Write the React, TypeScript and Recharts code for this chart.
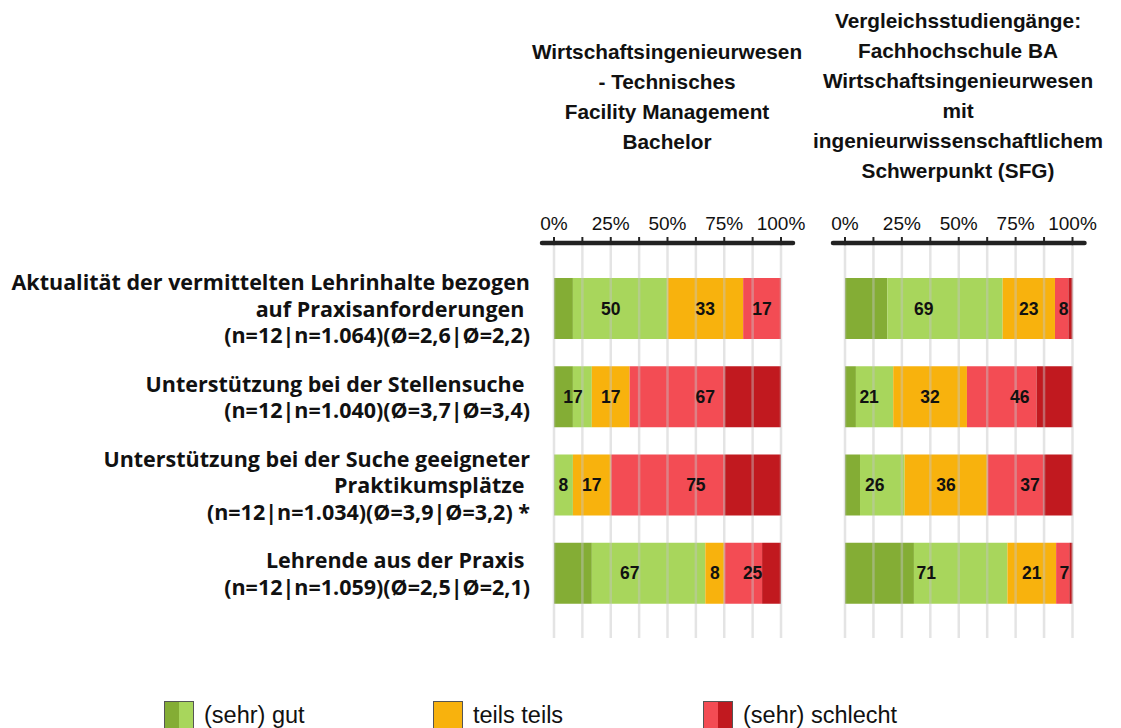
import React from 'react';
import { BarChart, Bar, XAxis, YAxis, ReferenceLine, LabelList } from 'recharts';

// ---------- data ----------
const categoryLines: string[][] = [
  ['Aktualität der vermittelten Lehrinhalte bezogen', 'auf Praxisanforderungen\u00a0', '(n=12|n=1.064)(Ø=2,6|Ø=2,2)'],
  ['Unterstützung bei der Stellensuche\u00a0', '(n=12|n=1.040)(Ø=3,7|Ø=3,4)'],
  ['Unterstützung bei der Suche geeigneter', 'Praktikumsplätze\u00a0', '(n=12|n=1.034)(Ø=3,9|Ø=3,2) *'],
  ['Lehrende aus der Praxis\u00a0', '(n=12|n=1.059)(Ø=2,5|Ø=2,1)'],
];
const categories = categoryLines.map((l) => l.join('\n'));

// Left panel: Wirtschaftsingenieurwesen - Technisches Facility Management Bachelor
const leftSehrGut = [8.33, 8.33, 0, 16.67];
const leftGut = [41.67, 8.33, 8.33, 50];
const leftTeils = [33.33, 16.67, 16.67, 8.33];
const leftSchlecht = [16.67, 41.67, 50, 16.67];
const leftSehrSchlecht = [0, 25, 25, 8.33];

// Right panel: Vergleichsstudiengänge (SFG)
const rightSehrGut = [18.6, 4.8, 6.6, 30.3];
const rightGut = [50.7, 16.4, 19.6, 41.1];
const rightTeils = [23.0, 32.4, 36.4, 21.4];
const rightSchlecht = [5.9, 30.6, 24.6, 5.8];
const rightSehrSchlecht = [1.8, 15.8, 12.8, 1.4];

const xTicks = [0, 12.5, 25, 37.5, 50, 62.5, 75, 87.5, 100];
const gridValues = [0, 12.5, 25, 37.5, 50, 62.5, 75, 87.5, 100];

const leftTitle = ['Wirtschaftsingenieurwesen', '- Technisches', 'Facility Management', 'Bachelor'];
const rightTitle = [
  'Vergleichsstudiengänge:',
  'Fachhochschule BA',
  'Wirtschaftsingenieurwesen',
  'mit',
  'ingenieurwissenschaftlichem',
  'Schwerpunkt (SFG)',
];

const legendItems = [
  { label: '(sehr) gut', colors: ['#84ad35', '#a8d65c'] },
  { label: 'teils teils', colors: ['#f8b20d'] },
  { label: '(sehr) schlecht', colors: ['#f34c54', '#c1191f'] },
];

const C = {
  sehrGut: '#84ad35',
  gut: '#a8d65c',
  teils: '#f8b20d',
  schlecht: '#f34c54',
  sehrSchlecht: '#c1191f',
};

type Row = {
  cat: string;
  sehrGut: number;
  gut: number;
  teils: number;
  schlecht: number;
  sehrSchlecht: number;
};

const buildRows = (a: number[], b: number[], c: number[], d: number[], e: number[]): Row[] =>
  categories.map((cat, i) => ({
    cat,
    sehrGut: a[i],
    gut: b[i],
    teils: c[i],
    schlecht: d[i],
    sehrSchlecht: e[i],
  }));

const leftData = buildRows(leftSehrGut, leftGut, leftTeils, leftSchlecht, leftSehrSchlecht);
const rightData = buildRows(rightSehrGut, rightGut, rightTeils, rightSchlecht, rightSehrSchlecht);

const ARIAL = '"Liberation Sans", Arial, Helvetica, sans-serif';
const CALIBRI = '"Open Sans", Carlito, Calibri, sans-serif';

// ---------- custom pieces ----------
const XTick = (props: any) => {
  const { x, y, payload } = props;
  const v = Number(payload.value);
  const axisY = y + 8;
  return (
    <g>
      {v % 25 === 0 && (
        <text x={x} y={y - 5} textAnchor="middle" fontSize={19} fontFamily={ARIAL} fill="#111">
          {v}%
        </text>
      )}
      {v === 0 && <line x1={x - 12} x2={x} y1={axisY} y2={axisY} stroke="#222" strokeWidth={4.5} strokeLinecap="round" />}
      {v === 100 && <line x1={x} x2={x + 12} y1={axisY} y2={axisY} stroke="#222" strokeWidth={4.5} strokeLinecap="round" />}
    </g>
  );
};

const YTick = (props: any) => {
  const { x, y, payload } = props;
  const lines = String(payload.value).split('\n');
  const lh = 26.5;
  const start = y - ((lines.length - 1) * lh) / 2;
  return (
    <text textAnchor="end" fontSize={21.5} fontWeight={700} fontFamily={CALIBRI} fill="#111" style={{ whiteSpace: 'pre' }}>
      {lines.map((l, i) => (
        <tspan key={i} x={x} y={start + i * lh} dominantBaseline="central">
          {l}
        </tspan>
      ))}
    </text>
  );
};

// label centred on a group of stacked segments; uses the segment geometry from Recharts
const groupLabel = (data: Row[], key: keyof Row, before: keyof Row | null, after: keyof Row | null) => (props: any) => {
  const x = Number(props.x);
  const y = Number(props.y);
  const width = Number(props.width);
  const height = Number(props.height);
  const index = props.index;
  const row = data[index];
  if (!row) return null;
  const v = row[key] as number;
  if (!v) return null;
  const unit = width / v;
  const pre = before ? (row[before] as number) : 0;
  const post = after ? (row[after] as number) : 0;
  const start = x - pre * unit;
  const end = x + width + post * unit;
  const total = v + pre + post;
  return (
    <text
      x={(start + end) / 2}
      y={y + height / 2}
      textAnchor="middle"
      dominantBaseline="central"
      fontSize={17.5}
      fontWeight={700}
      fontFamily={ARIAL}
      fill="#111"
    >
      {Math.round(total)}
    </text>
  );
};

type PanelProps = {
  data: Row[];
  width: number;
  marginLeft: number;
  marginRight: number;
  showY: boolean;
};

const Panel = ({ data, width, marginLeft, marginRight, showY }: PanelProps) => (
  <BarChart
    layout="vertical"
    width={width}
    height={640}
    data={data}
    margin={{ top: 213, right: marginRight, bottom: 2, left: marginLeft }}
    barSize={61}
  >
    <XAxis
      type="number"
      orientation="top"
      domain={[0, 100]}
      ticks={xTicks}
      interval={0}
      height={30}
      axisLine={{ stroke: '#222', strokeWidth: 4.5, strokeLinecap: 'round' }}
      tickLine={{ stroke: '#222', strokeWidth: 2 }}
      tickSize={6}
      tick={<XTick />}
    />
    <YAxis
      type="category"
      dataKey="cat"
      width={showY ? 554 : 0}
      hide={!showY}
      axisLine={false}
      tickLine={false}
      tickMargin={18}
      padding={{ top: 21, bottom: 21 }}
      tick={<YTick />}
      interval={0}
    />
    <Bar dataKey="sehrGut" stackId="s" fill={C.sehrGut} isAnimationActive={false} />
    <Bar dataKey="gut" stackId="s" fill={C.gut} isAnimationActive={false}>
      <LabelList dataKey="gut" content={groupLabel(data, 'gut', 'sehrGut', null)} />
    </Bar>
    <Bar dataKey="teils" stackId="s" fill={C.teils} isAnimationActive={false}>
      <LabelList dataKey="teils" content={groupLabel(data, 'teils', null, null)} />
    </Bar>
    <Bar dataKey="schlecht" stackId="s" fill={C.schlecht} isAnimationActive={false}>
      <LabelList dataKey="schlecht" content={groupLabel(data, 'schlecht', null, 'sehrSchlecht')} />
    </Bar>
    <Bar dataKey="sehrSchlecht" stackId="s" fill={C.sehrSchlecht} isAnimationActive={false} />
    {gridValues.map((g) => (
      <ReferenceLine key={g} x={g} stroke="#c4c4c4" strokeOpacity={0.45} strokeWidth={2.5} />
    ))}
  </BarChart>
);

const Title = ({ lines, center, top }: { lines: string[]; center: number; top: number }) => (
  <div
    style={{
      position: 'absolute',
      left: center - 170,
      width: 340,
      top,
      textAlign: 'center',
      fontFamily: ARIAL,
      fontWeight: 700,
      fontSize: 20.8,
      lineHeight: '30px',
      color: '#111',
    }}
  >
    {lines.map((l, i) => (
      <div key={i}>{l}</div>
    ))}
  </div>
);

export default function App() {
  return (
    <div style={{ position: 'absolute', left: 0, top: 0, width: 1121, height: 728, overflow: 'hidden', background: '#fff' }}>
      <Title lines={leftTitle} center={667} top={37} />
      <Title lines={rightTitle} center={958} top={6} />
      <div style={{ position: 'absolute', left: 0, top: 0 }}>
        <Panel data={leftData} width={820} marginLeft={0} marginRight={39} showY />
      </div>
      <div style={{ position: 'absolute', left: 820, top: 0 }}>
        <Panel data={rightData} width={300} marginLeft={25} marginRight={47.5} showY={false} />
      </div>
      {legendItems.map((it, i) => (
        <div
          key={it.label}
          style={{ position: 'absolute', left: [164, 433, 703][i], top: 701, display: 'flex', alignItems: 'flex-start' }}
        >
          <div style={{ width: 30, height: 32, border: '1.5px solid #555', display: 'flex', boxSizing: 'border-box' }}>
            {it.colors.map((c) => (
              <div key={c} style={{ flex: 1, background: c }} />
            ))}
          </div>
          <div style={{ marginLeft: 10, fontFamily: ARIAL, fontSize: 23.5, lineHeight: '28px', marginTop: 0, color: '#111' }}>
            {it.label}
          </div>
        </div>
      ))}
    </div>
  );
}
